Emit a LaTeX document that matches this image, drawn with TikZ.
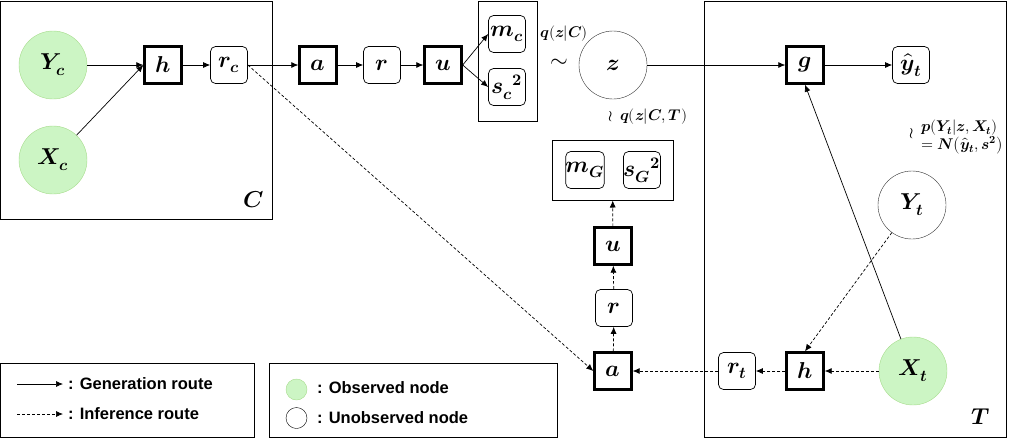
\documentclass[tikz,border=0pt]{standalone}
\usepackage{amsmath}
\usepackage{fontspec}
\usepackage{unicode-math}
\setmathfont{Latin Modern Math}
\setsansfont{Liberation Sans}
\usetikzlibrary{arrows.meta}
\definecolor{obsfill}{HTML}{CCF5C4}
\definecolor{obsline}{HTML}{A6DC8C}
\newcommand{\bi}[1]{\symbfit{#1}}
\begin{document}
\begin{tikzpicture}[x=1pt, y=-1pt,
  font=\fontsize{23}{25}\selectfont,
  bold/.style={draw, line width=2.4pt, minimum size=37pt, inner sep=0pt},
  soft/.style={draw, line width=0.7pt, rounded corners=5pt, minimum size=37pt, inner sep=0pt},
  obs/.style={circle, draw=obsline, fill=obsfill, minimum size=68pt, inner sep=0pt},
  unobs/.style={circle, draw=black!80, minimum size=68pt, inner sep=0pt},
  gen/.style={line width=0.7pt, -{Latex[length=7pt,width=6pt]}},
  inf/.style={line width=0.7pt, dash pattern=on 3pt off 2pt, -{Latex[length=7pt,width=6pt]}},
  frame/.style={draw, line width=1pt},
  small/.style={font=\fontsize{15.5}{18}\selectfont},
  legend/.style={font=\sffamily\bfseries\fontsize{16.5}{18}\selectfont, anchor=west, inner sep=0pt}]
\useasboundingbox (0,0) rectangle (1010,440);
% frames
\draw[frame] (0,1) rectangle (272,219);
\draw[frame] (704,1) rectangle (1006,437);
\node at (254,200) {$\bi{C}$};
\node at (981,417) {$\bi{T}$};
% context side
\node[obs] (Yc) at (53,65) {$\bi{Y_c}$};
\node[obs] (Xc) at (53,160) {$\bi{X_c}$};
\node[bold] (hc) at (163,65) {$\bi{h}$};
\node[soft] (rc) at (229,65) {$\bi{r_c}$};
\node[bold] (a) at (318,65) {$\bi{a}$};
\node[soft] (r) at (382,65) {$\bi{r}$};
\node[bold] (u) at (443,65) {$\bi{u}$};
\node[frame, minimum width=59pt, minimum height=120pt] (cbox) at (507.5,61) {};
\node[soft] (mc) at (507,34) {$\bi{m_c}$};
\node[soft] (sc) at (507,87) {${\bi{s_c}}^{\symbf{2}}$};
\node[small] at (564,34) {$\bi{q(z|C)}$};
\node at (559,63) {$\sim$};
\node[unobs] (z) at (613,65) {$\bi{z}$};
\node[small] at (648,117) {$\wr\;\,\bi{q(z|C,T)}$};
% target side
\node[bold] (g) at (805,65) {$\bi{g}$};
\node[soft] (yhat) at (911,65) {$\widehat{\bi{y}}_{\bi{t}}$};
\node[small] at (912,134) {$\wr$};
\node[small, align=left, anchor=west, inner sep=0pt] at (921,137)
  {$\bi{p(Y_t|z,X_t)}$\\$\bi{=N\bigl(\widehat{y}_t,s}^{\symbf{2}}\bigr)$};
\node[unobs] (Yt) at (912,205) {$\bi{Y_t}$};
\node[obs] (Xt) at (913,371) {$\bi{X_t}$};
\node[bold] (ht) at (805,371) {$\bi{h}$};
\node[soft] (rt) at (737,371) {$\bi{r_t}$};
% global path
\node[bold] (aG) at (613,371) {$\bi{a}$};
\node[soft] (rG) at (614,308) {$\bi{r}$};
\node[bold] (uG) at (613,246) {$\bi{u}$};
\node[frame, minimum width=121pt, minimum height=60pt] (gbox) at (612.5,170) {};
\node[soft] (mG) at (585,170) {$\bi{m_G}$};
\node[soft] (sG) at (642,170) {${\bi{s_G}}^{\symbf{2}}$};
% generation route
\draw[gen] (Yc) -- (hc);
\draw[gen] (Xc) -- (hc.west);
\draw[gen] (hc) -- (rc);
\draw[gen] (rc) -- (a);
\draw[gen] (a) -- (r);
\draw[gen] (r) -- (u);
\draw[gen] (u.east) -- (mc.west);
\draw[gen] (u.east) -- (sc.west);
\draw[gen] (z) -- (g);
\draw[gen] (g) -- (yhat);
\draw[gen] (Xt) -- (g.south);
% inference route
\draw[inf] (rc.east) -- (aG.west);
\draw[inf] (Yt) -- (ht.north);
\draw[inf] (Xt) -- (ht);
\draw[inf] (ht) -- (rt);
\draw[inf] (rt) -- (aG);
\draw[inf] (aG) -- (rG);
\draw[inf] (rG) -- (uG);
\draw[inf] (uG) -- (gbox);
% legends
\draw[frame] (0,363) rectangle (254,437);
\draw[frame] (269,363) rectangle (557,437);
\coordinate (g1) at (17,384);
\coordinate (g2) at (63,384);
\coordinate (i1) at (17,414);
\coordinate (i2) at (63,414);
\draw[gen] (g1) -- (g2);
\draw[inf] (i1) -- (i2);
\node[legend] at (68,384) {: Generation route};
\node[legend] at (68,414) {: Inference route};
\node[circle, draw=obsline, fill=obsfill, minimum size=21pt, inner sep=0pt] (lo) at (296.5,389.5) {};
\node[circle, draw, minimum size=21pt, inner sep=0pt] (lu) at (296.5,418) {};
\node[legend] at (317,388) {: Observed node};
\node[legend] at (317,418) {: Unobserved node};
\end{tikzpicture}
\end{document}
